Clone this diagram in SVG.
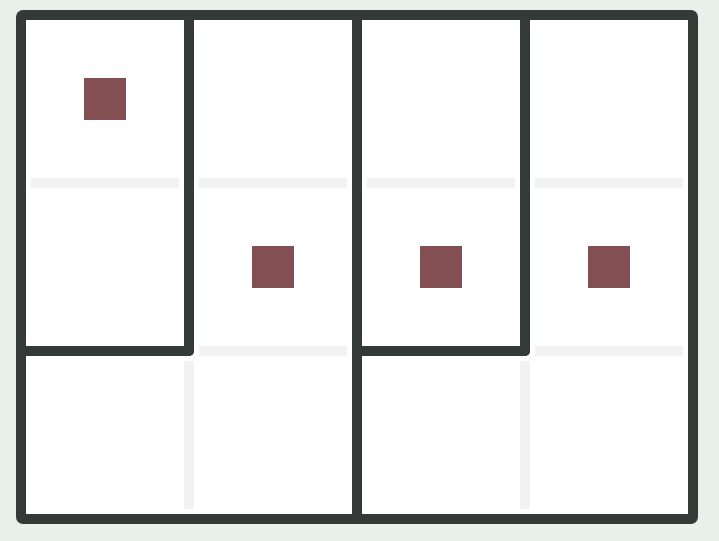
<svg xmlns="http://www.w3.org/2000/svg" width="719" height="541" viewBox="0 0 719 541">
<style>
.wall{stroke:#343a38;stroke-width:10;stroke-linecap:round;fill:none}
.faint{stroke:#f2f2f2;stroke-width:10;stroke-linecap:butt;fill:none}
.goal{fill:#834f53}
</style>
<rect width="719" height="541" fill="#e8f0ea"/>
<g id="cells">
<rect x="21" y="15" width="672" height="504" fill="#ffffff"/>
</g>
<g id="faint-lines">
<line class="faint" x1="31" y1="183" x2="179" y2="183"/>
<line class="faint" x1="199" y1="183" x2="347" y2="183"/>
<line class="faint" x1="367" y1="183" x2="515" y2="183"/>
<line class="faint" x1="535" y1="183" x2="683" y2="183"/>
<line class="faint" x1="199" y1="351" x2="347" y2="351"/>
<line class="faint" x1="535" y1="351" x2="683" y2="351"/>
<line class="faint" x1="189" y1="361" x2="189" y2="509"/>
<line class="faint" x1="525" y1="361" x2="525" y2="509"/>
</g>
<g id="connectors">
<rect class="wall" x="21" y="15" width="672" height="504" rx="2"/>
<line class="wall" x1="189" y1="15" x2="189" y2="351"/>
<line class="wall" x1="357" y1="15" x2="357" y2="519"/>
<line class="wall" x1="525" y1="15" x2="525" y2="351"/>
<line class="wall" x1="21" y1="351" x2="189" y2="351"/>
<line class="wall" x1="357" y1="351" x2="525" y2="351"/>
</g>
<g id="goal-1"><rect class="goal" x="84" y="78" width="42" height="42"/></g>
<g id="goal-2"><rect class="goal" x="252" y="246" width="42" height="42"/></g>
<g id="goal-3"><rect class="goal" x="420" y="246" width="42" height="42"/></g>
<g id="goal-4"><rect class="goal" x="588" y="246" width="42" height="42"/></g>
</svg>
